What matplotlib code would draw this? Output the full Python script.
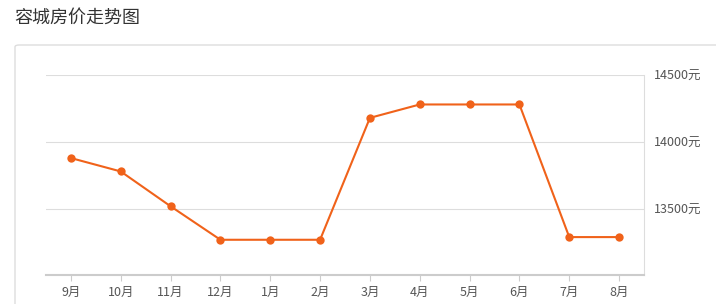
import matplotlib.pyplot as plt
from matplotlib.patches import FancyBboxPatch

plt.rcParams['font.family'] = ['Noto Sans CJK SC', 'DejaVu Sans']

months = ['9月', '10月', '11月', '12月', '1月', '2月', '3月', '4月', '5月', '6月', '7月', '8月']
prices = [13880, 13780, 13520, 13270, 13270, 13270, 14180, 14280, 14280, 14280, 13290, 13290]
ytick_vals = [13500, 14000, 14500]
ytick_labels = ['13500元', '14000元', '14500元']

W, H = 716, 304
fig = plt.figure(figsize=(W / 100, H / 100), dpi=100)

# outer card
card = FancyBboxPatch((15 / W, -0.05), 720 / W, (H - 45) / H + 0.05,
                      boxstyle="round,pad=0,rounding_size=0.006",
                      transform=fig.transFigure, facecolor='white',
                      edgecolor='#dddddd', linewidth=1.0, zorder=-1)
fig.patches.append(card)

fig.text(14 / W, 1 - 18 / H, '容城房价走势图', fontsize=13, color='#333333',
         ha='left', va='center')

# plot area: x 46..644, y 75..275
ax = fig.add_axes([46 / W, 1 - 275 / H, (644 - 46) / W, (275 - 75) / H])
ax.set_facecolor('none')
x = list(range(len(months)))
ax.plot(x, prices, color='#f0621a', linewidth=1.5, marker='o', markersize=6,
        markeredgewidth=0, zorder=3)

ax.set_xlim(-0.5, len(months) - 0.5)
ax.set_ylim(13007, 14500)
ax.set_xticks(x)
ax.set_xticklabels(months, fontsize=9, color='#555555')
ax.yaxis.tick_right()
ax.set_yticks(ytick_vals)
ax.set_yticklabels(ytick_labels, fontsize=9, color='#555555')
ax.tick_params(axis='y', length=0, pad=7)
ax.tick_params(axis='x', length=4, color='#cccccc', pad=4)
ax.grid(axis='y', color='#dddddd', linewidth=0.8)
ax.set_axisbelow(True)

for side in ['top', 'left']:
    ax.spines[side].set_visible(False)
ax.spines['bottom'].set_color('#cccccc')
ax.spines['bottom'].set_linewidth(1.5)
ax.spines['right'].set_color('#dddddd')
ax.spines['right'].set_linewidth(0.8)

fig.savefig('out.png', dpi=100)
